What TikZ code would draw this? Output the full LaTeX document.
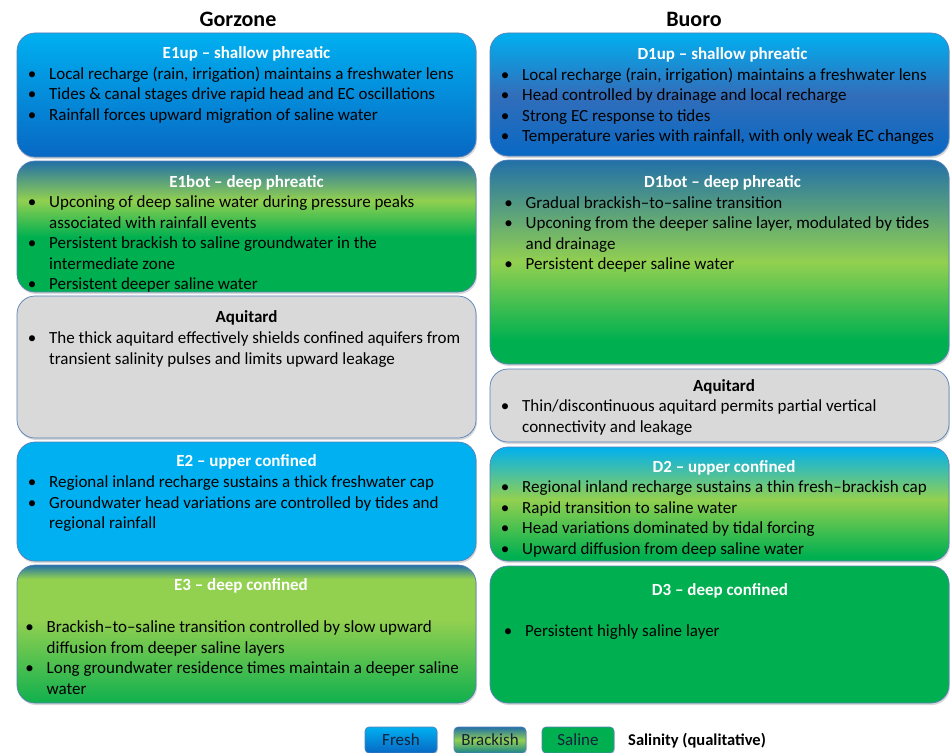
\documentclass[tikz,border=0pt]{standalone}
\usepackage{fontspec}
\setmainfont{Carlito}
\usetikzlibrary{shadows}

\definecolor{freshlt}{RGB}{0,176,240}
\definecolor{freshdk}{RGB}{8,104,196}
\definecolor{freshmd}{RGB}{50,110,186}
\definecolor{tealtop}{RGB}{34,112,168}
\definecolor{brackish}{RGB}{146,208,80}
\definecolor{saline}{RGB}{0,176,80}
\definecolor{salinedk}{RGB}{16,176,78}
\definecolor{aqgray}{RGB}{217,217,217}
\definecolor{rimblue}{RGB}{86,128,184}
\definecolor{legtext}{RGB}{22,32,56}

% path of a shaded node spans 25bp (bottom) to 75bp (top)
\pgfdeclareverticalshading{fresh}{100bp}{color(0bp)=(freshdk); color(25bp)=(freshdk); color(75bp)=(freshlt); color(100bp)=(freshlt)}
\pgfdeclareverticalshading{freshmix}{100bp}{color(0bp)=(freshdk); color(25bp)=(freshdk); color(50bp)=(freshmd); color(75bp)=(freshlt); color(100bp)=(freshlt)}
\pgfdeclareverticalshading{phreatic}{100bp}{color(0bp)=(saline); color(46bp)=(saline); color(60bp)=(brackish); color(75bp)=(tealtop); color(100bp)=(tealtop)}
\pgfdeclareverticalshading{deepphr}{100bp}{color(0bp)=(saline); color(31bp)=(saline); color(50bp)=(brackish); color(75bp)=(tealtop); color(100bp)=(tealtop)}
\pgfdeclareverticalshading{upconf}{100bp}{color(0bp)=(saline); color(27bp)=(saline); color(52bp)=(brackish); color(75bp)=(freshlt); color(100bp)=(freshlt)}
\pgfdeclareverticalshading{deepconf}{100bp}{color(0bp)=(salinedk); color(25bp)=(salinedk); color(55bp)=(brackish); color(70bp)=(brackish); color(75bp)=(tealtop); color(100bp)=(tealtop)}
\pgfdeclareverticalshading{confined}{100bp}{color(0bp)=(freshlt); color(100bp)=(freshlt)}
\pgfdeclareverticalshading{saline}{100bp}{color(0bp)=(saline); color(100bp)=(saline)}
\pgfdeclareverticalshading{aquitard}{100bp}{color(0bp)=(aqgray); color(100bp)=(aqgray)}
\pgfdeclareverticalshading{legbrack}{100bp}{color(0bp)=(tealtop!70!saline); color(25bp)=(tealtop!70!saline); color(50bp)=(brackish); color(75bp)=(tealtop); color(100bp)=(tealtop)}

\newcommand\bl{\strut\makebox[0pt]{\textbullet}\hspace*{17pt}}
\newcommand\cont{\strut\hspace*{17pt}}

\tikzset{
  layer/.style={rectangle, rounded corners=18pt, draw=rimblue, line width=0.7pt, inner sep=0pt, shade,
    drop shadow={shadow xshift=1pt, shadow yshift=-2pt, opacity=0.3}},
  head/.style={font=\bfseries\fontsize{17}{20.5}\selectfont, text=white, anchor=base, yshift=-1pt, inner sep=0pt},
  body/.style={font=\fontsize{17}{20.5}\selectfont, align=left, anchor=north west, yshift=13.5pt, inner sep=0pt},
  title/.style={font=\bfseries\fontsize{22}{26}\selectfont, anchor=base, inner sep=0pt},
  legbox/.style={rectangle, rounded corners=4pt, draw=rimblue, line width=0.6pt, shade, minimum width=72pt,
    minimum height=26pt, inner sep=0pt, font=\fontsize{17}{20}\selectfont, text=legtext,
    drop shadow={shadow xshift=1pt, shadow yshift=-1.5pt, opacity=0.25}}
}

\begin{document}
\begin{tikzpicture}[x=1pt, y=-1pt]
\useasboundingbox (0,0) rectangle (950,752);
\fill[white] (0,0) rectangle (950,752);

\node[title] (gorzone) at (238,27) {Gorzone};
\node[title] (buoro) at (694,27) {Buoro};

\foreach \n/\xa/\ya/\xb/\yb/\sh in {E1up/17/33/476/157/fresh, E1bot/17/161/476/292/phreatic, aqL/17/296/476/438/aquitard,
    E2/17/442/476/561/confined, E3/17/565/476/703/deepconf, D1up/490/33/949/156/freshmix, D1bot/490/160/949/364/deepphr,
    aqR/490/369/949/442/aquitard, D2/490/447/949/561/upconf, D3/490/566/949/703/saline}
  \node[layer, shading=\sh, minimum width={(\xb-\xa)*1pt}, minimum height={(\yb-\ya)*1pt}] (\n) at ({(\xa+\xb)/2},{(\ya+\yb)/2}) {};

\node[head] (E1up-t) at (246.5,58) {E1up – shallow phreatic};
\node[body] (E1up-b) at (32,78) {\bl Local recharge (rain, irrigation) maintains a freshwater lens\\
  \bl Tides \& canal stages drive rapid head and EC oscillations\\
  \bl Rainfall forces upward migration of saline water};

\node[head] (E1bot-t) at (246.5,186) {E1bot – deep phreatic};
\node[body] (E1bot-b) at (32,206.5) {\bl Upconing of deep saline water during pressure peaks\\
  \cont associated with rainfall events\\
  \bl Persistent brackish to saline groundwater in the\\
  \cont intermediate zone\\
  \bl Persistent deeper saline water};

\node[head, text=black] (aqL-t) at (246.5,321.5) {Aquitard};
\node[body] (aqL-b) at (32,342.5) {\bl The thick aquitard effectively shields confined aquifers from\\
  \cont transient salinity pulses and limits upward leakage};

\node[head] (E2-t) at (246.5,465.5) {E2 – upper confined};
\node[body] (E2-b) at (32,486.5) {\bl Regional inland recharge sustains a thick freshwater cap\\
  \bl Groundwater head variations are controlled by tides and\\
  \cont regional rainfall};

\node[head] (E3-t) at (241,589.5) {E3 – deep confined};
\node[body] (E3-b) at (29.5,631.5) {\bl Brackish–to–saline transition controlled by slow upward\\
  \cont diffusion from deeper saline layers\\
  \bl Long groundwater residence times maintain a deeper saline\\
  \cont water};

\node[head] (D1up-t) at (722.5,58.5) {D1up – shallow phreatic};
\node[body] (D1up-b) at (505,79) {\bl Local recharge (rain, irrigation) maintains a freshwater lens\\
  \bl Head controlled by drainage and local recharge\\
  \bl Strong EC response to tides\\
  \bl Temperature varies with rainfall, with only weak EC changes};

\node[head] (D1bot-t) at (722.5,186.5) {D1bot – deep phreatic};
\node[body] (D1bot-b) at (508.5,207) {\bl Gradual brackish–to–saline transition\\
  \bl Upconing from the deeper saline layer, modulated by tides\\
  \cont and drainage\\
  \bl Persistent deeper saline water};

\node[head, text=black] (aqR-t) at (724,390.5) {Aquitard};
\node[body] (aqR-b) at (505,410.5) {\bl Thin/discontinuous aquitard permits partial vertical\\
  \cont connectivity and leakage};

\node[head] (D2-t) at (724,471) {D2 – upper confined};
\node[body] (D2-b) at (505,491.5) {\bl Regional inland recharge sustains a thin fresh–brackish cap\\
  \bl Rapid transition to saline water\\
  \bl Head variations dominated by tidal forcing\\
  \bl Upward diffusion from deep saline water};

\node[head] (D3-t) at (720,594.5) {D3 – deep confined};
\node[body] (D3-b) at (508,635) {\bl Persistent highly saline layer};

\node[legbox, shading=fresh] (legfresh) at (401,740) {Fresh};
\node[legbox, shading=legbrack] (legbrack) at (490,740) {Brackish};
\node[legbox, shading=saline] (legsaline) at (578,740) {Saline};
\node[font=\bfseries\fontsize{16.5}{18}\selectfont, anchor=base west, inner sep=0pt] (legtitle) at (628,745) {Salinity (qualitative)};
\end{tikzpicture}
\end{document}
